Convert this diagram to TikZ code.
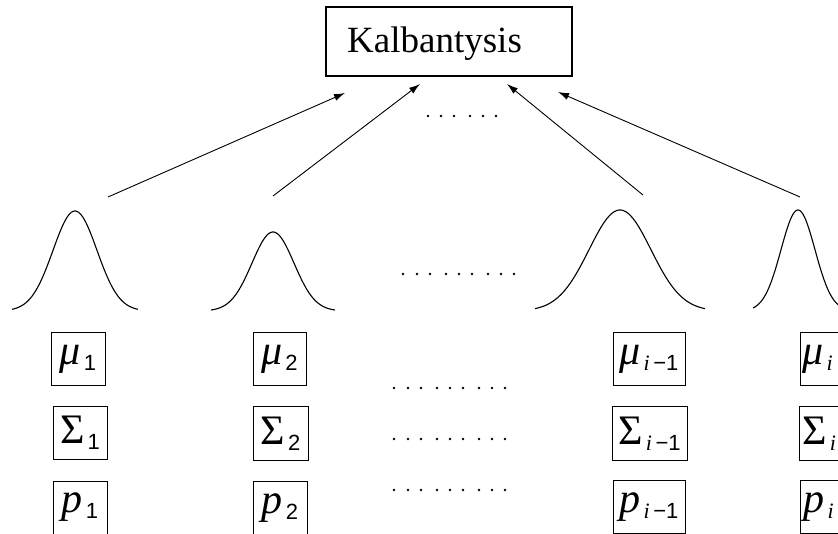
\documentclass[tikz,border=0pt]{standalone}
\usepackage{fontspec}
\setmainfont{Liberation Serif}
\newfontfamily\subsans{Liberation Sans}
\usetikzlibrary{arrows.meta}

% a parameter symbol with a lowered subscript
\newcommand{\parsym}[2]{#1\hspace{3pt}\raisebox{-6pt}{\fontsize{22}{22}\selectfont #2}}
\newcommand{\imone}{\textit{i}\,{\subsans −1}}

\tikzset{
  pbox/.style={draw, line width=1pt, inner sep=0pt, minimum height=53pt,
               font=\fontsize{42}{42}\selectfont},
  pboxcut/.style={pbox, anchor=west, text width=72pt, align=left},
  arr/.style={-{Latex[length=11pt,width=7pt]}, line width=0.9pt},
  bell/.style={line width=1.1pt, line join=round},
  dotfill/.style={fill=black}
}

\begin{document}
\begin{tikzpicture}[x=1pt, y=-1pt]
\useasboundingbox (0,0) rectangle (838,534);
\clip (0,0) rectangle (838,534);

% top node
\node[draw, line width=1.2pt, minimum width=246pt, minimum height=69pt, inner sep=0pt] (kb) at (449,41.5) {};
\node[anchor=base west, inner sep=0pt, font=\fontsize{37}{37}\selectfont] (kt) at (347,53) {Kalbantysis};

% arrow ends
\coordinate (s1) at (108,197); \coordinate (t1) at (345,93);
\coordinate (s2) at (273,196); \coordinate (t2) at (420,84);
\coordinate (s3) at (643,195); \coordinate (t3) at (507,84);
\coordinate (s4) at (800,197); \coordinate (t4) at (558,92);
\draw[arr] (s1) -- (t1);
\draw[arr] (s2) -- (t2);
\draw[arr] (s3) -- (t3);
\draw[arr] (s4) -- (t4);

% dots between the arrows
\foreach \x in {428,441,454,470,483,496} \fill[dotfill] (\x,116) circle (1.3pt);

% bell curves
\draw[bell] plot[domain=-63:63, samples=90, smooth] ({75+\x},{311-100*exp(-(\x*\x)/968)});
\draw[bell] plot[domain=-62:62, samples=90, smooth] ({273+\x},{311-79*exp(-(\x*\x)/882)});
\draw[bell] plot[domain=-85:85, samples=100, smooth] ({620+\x},{311-101*exp(-(\x*\x)/1922)});
\draw[bell] plot[domain=-45:45, samples=90, smooth] ({798+\x},{311-101*exp(-(\x*\x)/578)});

% dots between the curves
\foreach \x in {403,417,430,446,459,472,488,501,514} \fill[dotfill] (\x,274) circle (1.3pt);

% parameter boxes
\node[pbox, minimum width=54pt] (mu1) at (78,359.5) {\parsym{\textit{μ}}{\subsans 1}};
\node[pbox, minimum width=54pt] (sg1) at (80,433) {\parsym{Σ}{\subsans 1}};
\node[pbox, minimum width=54pt] (p1)  at (80,507.5) {\parsym{\textit{p}}{\subsans 1}};

\node[pbox, minimum width=53pt] (mu2) at (279.5,359.5) {\parsym{\textit{μ}}{\subsans 2}};
\node[pbox, minimum width=55pt] (sg2) at (280.5,433.5) {\parsym{Σ}{\subsans 2}};
\node[pbox, minimum width=54pt] (p2)  at (280,508) {\parsym{\textit{p}}{\subsans 2}};

\node[pbox, minimum width=72pt] (mu3) at (649,359.5) {\parsym{\textit{μ}}{\imone}};
\node[pbox, minimum width=75pt] (sg3) at (649.5,433.5) {\parsym{Σ}{\imone}};
\node[pbox, minimum width=72pt] (p3)  at (649,507) {\parsym{\textit{p}}{\imone}};

\node[pboxcut] (mu4) at (800,359.5) {\hspace*{2pt}\parsym{\textit{μ}}{\textit{i}}};
\node[pboxcut] (sg4) at (799,433.5) {\hspace*{3pt}\parsym{Σ}{\textit{i}}};
\node[pboxcut] (p4)  at (800,507) {\hspace*{3pt}\parsym{\textit{p}}{\textit{i}}};

% dots between the box columns
\foreach \y in {388,439,490}
  \foreach \x in {394,408,421,437,450,463,479,492,505} \fill[dotfill] (\x,\y) circle (1.3pt);
\end{tikzpicture}
\end{document}
